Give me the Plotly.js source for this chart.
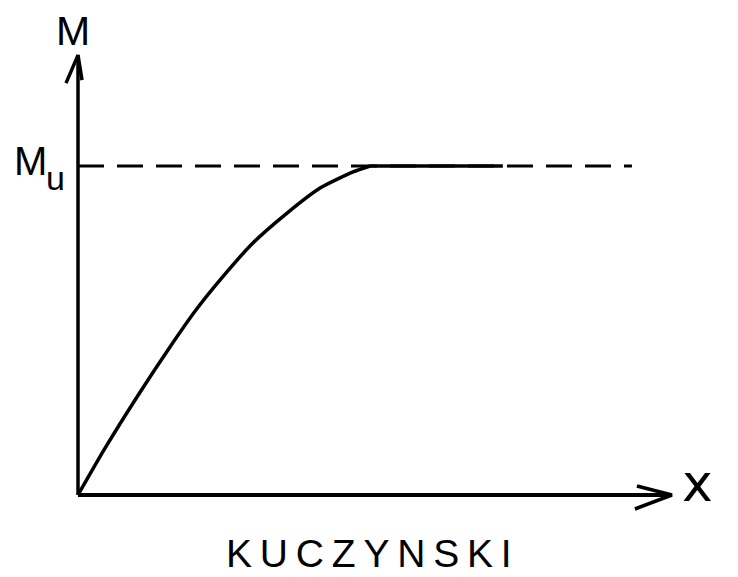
<!DOCTYPE html>
<html>
<head>
<meta charset="utf-8">
<script src="https://cdn.plot.ly/plotly-3.0.1.min.js"></script>
<style>html,body{margin:0;padding:0;background:#fff;}#chart{width:738px;height:577px;}</style>
</head>
<body>
<div id="chart"></div>
<script>
// Moment curve (Kuczynski): x normalised so that the plateau starts at x = 1, M / Mu
const curveX = [0, 0.089, 0.202, 0.315, 0.402, 0.486, 0.599, 0.716, 0.829, 0.942, 1.0];
const curveM = [0, 0.137, 0.298, 0.450, 0.560, 0.653, 0.766, 0.857, 0.933, 0.982, 1.0];
const plateauX = [1.0, 1.455];
const plateauM = [1.0, 1.0];
const muLevel = 1.0;
const dashedX = [0, 1.897];
const xAxisEnd = 2.034;
const yAxisEnd = 1.337;
const labels = {yName: "M", muMain: "M", muSub: "u", xName: "x", title: "K\u2009U\u2009C\u2009Z\u2009Y\u2009N\u2009S\u2009K\u2009I"};

// pixel scale helpers (for arrowhead sizes and label offsets only)
const pxX = 292, pxY = 329;
const ox = 78, oy = 495;
const W = 738, H = 577;

const black = "#000";
const traces = [
  {x: dashedX, y: [muLevel, muLevel], mode: "lines", line: {color: black, width: 3, dash: "26px,13px"}, hoverinfo: "skip"},
  {x: curveX, y: curveM, mode: "lines", line: {color: black, width: 3.5, shape: "spline", smoothing: 0.6}, hoverinfo: "skip"},
  {x: plateauX, y: plateauM, mode: "lines", line: {color: black, width: 3.5}, hoverinfo: "skip"},
  // axes
  {x: [0, xAxisEnd], y: [0, 0], mode: "lines", line: {color: black, width: 4}, hoverinfo: "skip"},
  {x: [0, 0], y: [0, yAxisEnd], mode: "lines", line: {color: black, width: 3.5}, hoverinfo: "skip"},
  // arrowheads
  {x: [-12/pxX, 0, 4/pxX], y: [yAxisEnd - 28/pxY, yAxisEnd, yAxisEnd - 25/pxY], mode: "lines", line: {color: black, width: 3.5}, hoverinfo: "skip"},
  {x: [xAxisEnd - 35/pxX, xAxisEnd, xAxisEnd - 37/pxX], y: [9/pxY, 0, -14/pxY], mode: "lines", line: {color: black, width: 3.5}, hoverinfo: "skip"}
];

const font = "Liberation Sans, Arial, sans-serif";
const layout = {
  width: W, height: H,
  margin: {l: 0, r: 0, t: 0, b: 0},
  paper_bgcolor: "#fff", plot_bgcolor: "#fff",
  showlegend: false,
  xaxis: {range: [-ox/pxX, (W-ox)/pxX], visible: false, fixedrange: true},
  yaxis: {range: [(oy-H)/pxY, oy/pxY], visible: false, fixedrange: true},
  annotations: [
    {x: -5/pxX, y: yAxisEnd + 24/pxY, text: labels.yName, showarrow: false, font: {family: font, size: 41, color: black}, xanchor: "center", yanchor: "middle"},
    {x: -48/pxX, y: muLevel + 5/pxY, text: labels.muMain, showarrow: false, font: {family: font, size: 40, color: black}, xanchor: "center", yanchor: "middle"},
    {x: -23/pxX, y: muLevel - 12/pxY, text: labels.muSub, showarrow: false, font: {family: font, size: 34, color: black}, xanchor: "center", yanchor: "middle"},
    {x: xAxisEnd + 8/pxX, y: 12/pxY, text: labels.xName, showarrow: false, font: {family: "DejaVu Sans, sans-serif", size: 52, color: black}, xanchor: "left", yanchor: "middle"},
    {x: 0.5, xref: "paper", y: (oy-553)/pxY, text: labels.title, showarrow: false, font: {family: font, size: 39, color: black}, xanchor: "center", yanchor: "middle"}
  ]
};
Plotly.newPlot("chart", traces, layout, {staticPlot: true, displayModeBar: false});
</script>
</body>
</html>
